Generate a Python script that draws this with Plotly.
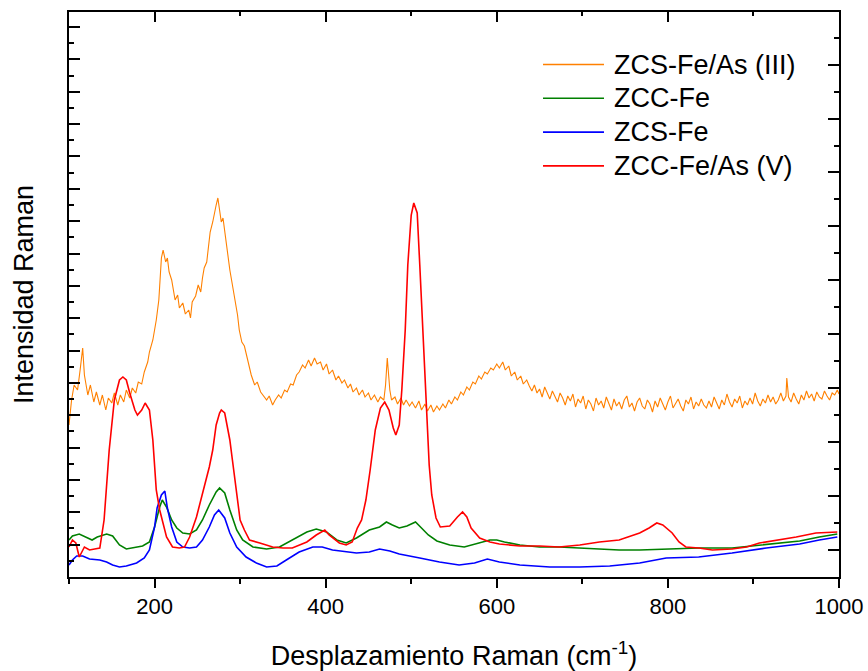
import plotly.graph_objects as go

# ---------------- data (Raman shift in cm-1, intensity in arbitrary units) ----------------
orange_x = [100,103,106,110,113,116,118,122,125,129,132,136,139,143,146,150,153,157,160,164,167,171,174,178,181,185,188,192,194,198,
            200,202,205,207,208,210,213,215,217,220,222,224,227,229,233,236,240,242,244,248,251,254,256,258,261,263,265,268,270,272,
            274,276,278,280,282,285,288,290,293,297,299,302,305,309,311,313,317,320,324,327,331,334,338,341,345,348,352,355,359,362,
            366,369,373,376,380,383,387,390,394,397,401,404,408,412,415,419,422,426,429,432,436,439,443,446,450,453,457,461,464,468,
            470,472,475,477,481,484,488,491,494,498,501,505,509,512,516,519,523,526,530,533,537,540,544,547,551,554,558,561,565,568,
            572,575,579,582,586,589,593,596,600,603,607,610,614,617,621,624,628,631,635,638,641,644,647,650,653,656,659,662,665,668,
            671,674,677,680,683,686,689,692,695,698,701,704,707,710,713,716,719,722,725,728,731,734,737,740,743,746,749,752,755,758,
            761,764,767,770,773,776,779,782,785,788,791,794,797,800,803,806,809,812,815,818,821,824,827,830,833,836,839,842,845,848,
            851,854,857,860,863,866,869,872,875,878,881,884,887,890,893,896,899,902,905,908,911,914,917,920,923,926,929,932,935,938,
            939,941,944,947,950,953,956,959,962,965,968,971,974,977,980,983,986,989,992,995,998,1000]
orange_y = [152,177,192,187,207,229,202,182,192,175,185,172,182,167,179,174,184,172,182,175,187,179,189,184,195,193,205,215,225,237,
            247,257,277,302,319,327,315,319,305,297,285,277,282,269,274,263,267,259,275,281,292,285,299,309,315,332,345,355,365,372,
            379,367,355,359,345,329,307,297,282,262,247,235,231,217,209,202,192,195,185,182,177,181,172,177,182,179,187,185,193,192,
            202,205,212,209,217,211,219,213,215,207,213,203,207,197,201,194,197,189,193,185,189,182,187,180,184,177,182,175,180,177,
            192,219,187,177,180,173,179,172,177,171,175,169,176,167,173,166,172,165,171,167,173,169,177,173,180,177,185,182,190,187,
            195,193,201,198,205,203,209,207,213,209,215,207,211,201,205,197,201,193,197,191,186,192,184,188,180,190,183,178,186,181,
            175,184,179,172,181,176,183,170,178,174,181,168,177,173,166,179,172,176,169,180,174,167,178,171,175,168,177,181,170,174,
            166,175,179,171,168,177,173,165,176,170,179,172,167,175,181,169,174,178,171,166,177,173,180,168,175,171,178,172,169,176,
            170,180,174,168,177,172,183,175,170,178,174,181,169,176,172,179,173,184,176,171,178,174,182,175,180,173,177,184,176,181,
            199,180,175,184,178,173,182,177,186,179,183,176,185,180,178,186,181,177,184,182,187,183]

green_x = [100,104,112,120,127,133,144,151,159,167,174,186,194,200,206,209,214,220,226,233,241,249,256,264,272,276,282,288,296,303,
           315,331,346,361,378,389,401,413,424,436,451,463,471,478,486,495,505,512,520,530,545,562,580,592,600,609,627,650,673,697,
           720,743,767,798,836,875,907,930,954,977,998]
green_y = [37,41,43,40,37,40,43,41,32,28,29,31,35,50,70,77,70,57,49,44,43,47,57,72,85,89,84,67,47,37,
           30,28,30,37,45,48,45,37,34,39,47,50,55,52,49,51,55,49,42,36,32,30,34,37,37,35,32,30,30,29,
           28,27,27,28,29,29,32,34,36,40,43]

blue_x = [100,104,109,116,124,136,144,151,159,167,179,188,194,200,203,208,212,215,220,226,233,241,249,256,264,270,275,282,288,296,
          307,319,331,343,354,369,385,396,408,424,436,451,463,475,486,510,533,556,574,589,603,627,662,697,732,767,798,836,875,915,
          954,977,998]
blue_y = [12,17,21,21,18,17,15,12,10,11,14,19,27,50,69,82,86,69,50,35,30,29,30,37,50,62,67,59,44,30,
          20,14,10,11,17,25,30,30,27,25,24,25,28,26,23,19,15,12,14,18,15,12,10,10,11,14,19,20,24,29,
          33,37,40]

red_x = [100,104,108,112,118,124,130,136,141,147,153,159,163,167,171,177,180,185,189,194,198,202,206,209,214,221,229,235,241,249,
         256,264,268,272,276,278,282,288,291,296,300,305,311,323,338,350,361,378,389,399,404,416,424,431,437,442,447,452,458,464,
         469,474,479,482,486,489,493,496,500,503,507,510,514,518,521,524,529,534,545,554,560,565,570,580,592,603,627,650,673,697,
         720,743,767,778,787,794,798,805,813,821,836,852,875,892,907,930,950,973,998]
red_y = [30,37,34,20,30,27,28,29,57,127,177,197,200,197,184,167,162,167,174,167,137,87,67,57,40,30,29,30,40,60,
         84,110,127,152,164,167,164,137,117,84,57,47,37,34,30,29,29,35,42,47,42,34,32,35,49,57,77,107,147,169,
         175,167,149,142,152,187,247,312,362,374,364,312,237,162,112,82,59,50,51,60,65,60,49,39,35,33,31,31,30,32,
         35,37,44,49,54,52,49,44,35,30,29,27,28,30,34,37,40,44,45]

series_names = ["ZCS-Fe/As (III)", "ZCC-Fe", "ZCS-Fe", "ZCC-Fe/As (V)"]
series_colors = ["#FF8000", "#008000", "#0000FF", "#FF0000"]
series_widths = [1.1, 1.6, 1.6, 1.6]
series_x = [orange_x, green_x, blue_x, red_x]
series_y = [orange_y, green_y, blue_y, red_y]

x_ticks = [200, 400, 600, 800, 1000]
x_tick_text = ["200", "400", "600", "800", "1000"]

FONT = "Liberation Sans, Arial, sans-serif"

fig = go.Figure()
for nm, c, w, xs, ys in zip(series_names, series_colors, series_widths, series_x, series_y):
    fig.add_trace(go.Scatter(x=xs, y=ys, mode="lines", name=nm,
                             line=dict(color=c, width=w), showlegend=False))

# invisible trace to activate the top / right axes
fig.add_trace(go.Scatter(x=[100], y=[0], xaxis="x2", yaxis="y2", mode="lines",
                         opacity=0, showlegend=False, hoverinfo="skip"))

# custom legend (long sample lines like the original)
leg_x0, leg_x1, leg_tx = 0.6156, 0.6948, 0.7050
leg_rows = [(577 - p) / 565 for p in (64.5, 98.3, 132.1, 165.9)]
for nm, c, yy in zip(series_names, series_colors, leg_rows):
    fig.add_shape(type="line", xref="paper", yref="paper", x0=leg_x0, x1=leg_x1, y0=yy, y1=yy,
                  line=dict(color=c, width=1.6 if c != "#FF8000" else 1.3))
    fig.add_annotation(xref="paper", yref="paper", x=leg_tx, y=yy, text=nm, showarrow=False,
                       xanchor="left", yanchor="middle", font=dict(family=FONT, size=27, color="black"))

fig.update_layout(
    width=868, height=671,
    margin=dict(l=69, r=29, t=12, b=94, autoexpand=False),
    paper_bgcolor="white", plot_bgcolor="white",
    font=dict(family=FONT, color="black"),
    xaxis=dict(range=[100, 1000], tickvals=x_ticks, ticktext=x_tick_text, automargin=False,
               ticks="outside", ticklen=9, tickwidth=1.6, tickcolor="black",
               minor=dict(dtick=100, tick0=0, ticks="outside", ticklen=5, tickwidth=1.6, tickcolor="black"),
               showline=True, linewidth=2, linecolor="black", showgrid=False, zeroline=False,
               tickfont=dict(size=22, family=FONT),
               title=dict(text="Desplazamiento Raman (cm<sup>-1</sup>)", font=dict(size=27, family=FONT), standoff=30)),
    xaxis2=dict(range=[100, 1000], overlaying="x", side="top", anchor="y", automargin=False,
                tickvals=x_ticks, showticklabels=False,
                ticks="inside", ticklen=10, tickwidth=1.6, tickcolor="black",
                minor=dict(dtick=100, tick0=0, ticks="inside", ticklen=4, tickwidth=1.6, tickcolor="black"),
                showline=True, linewidth=2, linecolor="black", showgrid=False, zeroline=False),
    yaxis=dict(range=[0, 565], tick0=0, dtick=32.35, showticklabels=False, automargin=False,
               ticks="inside", ticklen=11, tickwidth=1.6, tickcolor="black",
               minor=dict(dtick=16.175, tick0=0, ticks="inside", ticklen=5, tickwidth=1.6, tickcolor="black"),
               showline=True, linewidth=2, linecolor="black", showgrid=False, zeroline=False,
               title=dict(text="Intensidad Raman", font=dict(size=27, family=FONT), standoff=26)),
    yaxis2=dict(range=[0, 20.95], overlaying="y", side="right", anchor="x", automargin=False,
                tick0=1, dtick=2, showticklabels=False,
                ticks="inside", ticklen=11, tickwidth=1.6, tickcolor="black",
                minor=dict(dtick=1, tick0=0, ticks="inside", ticklen=5, tickwidth=1.6, tickcolor="black"),
                showline=True, linewidth=2, linecolor="black", showgrid=False, zeroline=False),
)

fig.write_html("out.html")
